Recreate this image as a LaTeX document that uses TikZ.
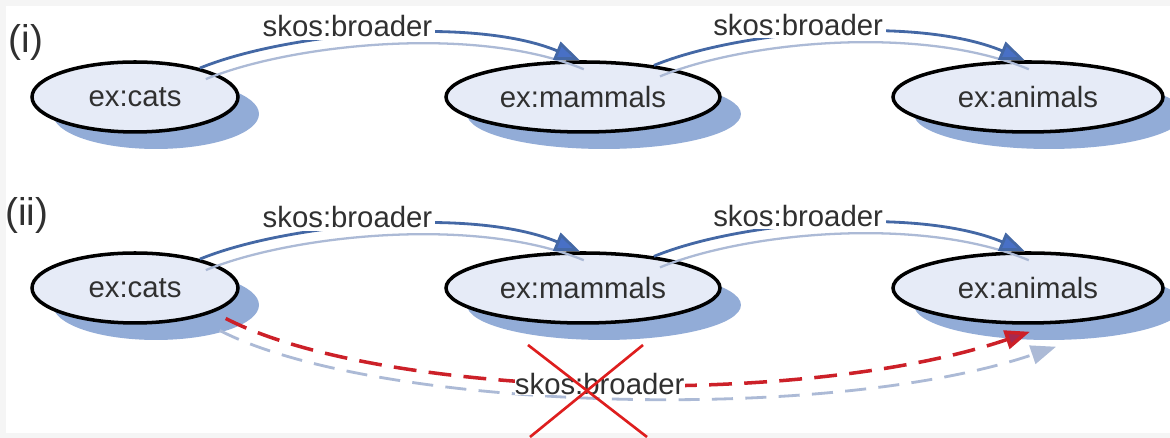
\documentclass[tikz,border=0pt]{standalone}
\usepackage{fontspec}
\setmainfont{Liberation Sans}
\usetikzlibrary{shapes.geometric,shadows,arrows.meta}

\definecolor{ellfill}{RGB}{230,235,247}
\definecolor{shadeblue}{RGB}{146,172,215}
\definecolor{edgeblue}{RGB}{68,104,165}
\definecolor{edgelight}{RGB}{172,186,214}
\definecolor{tipblue}{RGB}{72,112,198}
\definecolor{dashred}{RGB}{204,32,40}
\definecolor{tipred}{RGB}{168,40,78}
\definecolor{crossred}{RGB}{222,30,30}
\definecolor{textgray}{RGB}{48,48,48}

\tikzset{
  concept/.style={ellipse, draw=black, line width=2pt, fill=ellfill,
    minimum height=1.4cm, inner sep=0pt, text=textgray,
    font=\fontsize{16.7}{20}\selectfont,
    drop shadow={shadow xshift=0.42cm, shadow yshift=-0.34cm, fill=shadeblue, opacity=1}},
  rel/.style={draw=edgeblue, line width=1.6pt, -{Triangle[length=0.5cm,width=0.38cm,fill=tipblue]}},
  relshade/.style={draw=edgelight, line width=1.3pt},
  rellabel/.style={fill=white, inner sep=1.5pt, text=textgray, font=\fontsize{16.7}{20}\selectfont},
  wrongrel/.style={draw=dashred, line width=2pt, dash pattern=on 13pt off 7pt,
    -{Triangle[length=0.5cm,width=0.38cm,fill=tipred]}},
  wrongshade/.style={draw=edgelight, line width=1.6pt, dash pattern=on 12pt off 7pt,
    -{Triangle[length=0.5cm,width=0.38cm,fill=edgelight]}},
  tag/.style={text=textgray, font=\fontsize{22}{26}\selectfont}
}

\begin{document}
\begin{tikzpicture}[x=0.02cm, y=0.02cm]
  \useasboundingbox (0,0) rectangle (1170,438);
  \fill [gray!8] (0,0) rectangle (1170,438);
  \fill [white] (6,5) rectangle (1170,432);

  \node [tag] (one) at (26,395) {(i)};
  \node [tag] (two) at (27,222) {(ii)};

  \node [concept, minimum width=4.12cm] (cats1) at (135,341) {ex:cats};
  \node [concept, minimum width=5.48cm] (mammals1) at (583,341) {ex:mammals};
  \node [concept, minimum width=5.4cm] (animals1) at (1028,341) {ex:animals};

  \node [concept, minimum width=4.12cm] (cats2) at (135,150) {ex:cats};
  \node [concept, minimum width=5.48cm] (mammals2) at (583,150) {ex:mammals};
  \node [concept, minimum width=5.4cm] (animals2) at (1028,150) {ex:animals};

  % skos:broader links
  \foreach \a/\b in {cats1/mammals1, mammals1/animals1, cats2/mammals2, mammals2/animals2} {
    \draw [relshade] ([shift={(6,-11)}]\a.24) .. controls +(85,35) and +(-108,45) .. ([shift={(4,-9)}]\b.95);
    \draw [rel] (\a.24) .. controls +(85,35) and +(-108,45) .. (\b.95)
      node [rellabel, pos=0.42, yshift=0.2cm] {skos:broader};
  }

  % inferred link that does not hold
  \draw [wrongshade] ([shift={(12,-16)}]cats2.-20) .. controls +(155,-80) and +(-230,-78) .. ([shift={(28,-22)}]animals2.south);
  \draw [wrongrel] ([shift={(18,-4)}]cats2.-20) .. controls +(155,-80) and +(-230,-78) .. ([shift={(2,-7)}]animals2.south)
    node (nolabel) [rellabel, midway, inner sep=0pt] {skos:broader};

  \draw [crossred, line width=1.5pt] (528,93) -- (647,1);
  \draw [crossred, line width=1.5pt] (643,93) -- (530,1);
\end{tikzpicture}
\end{document}
